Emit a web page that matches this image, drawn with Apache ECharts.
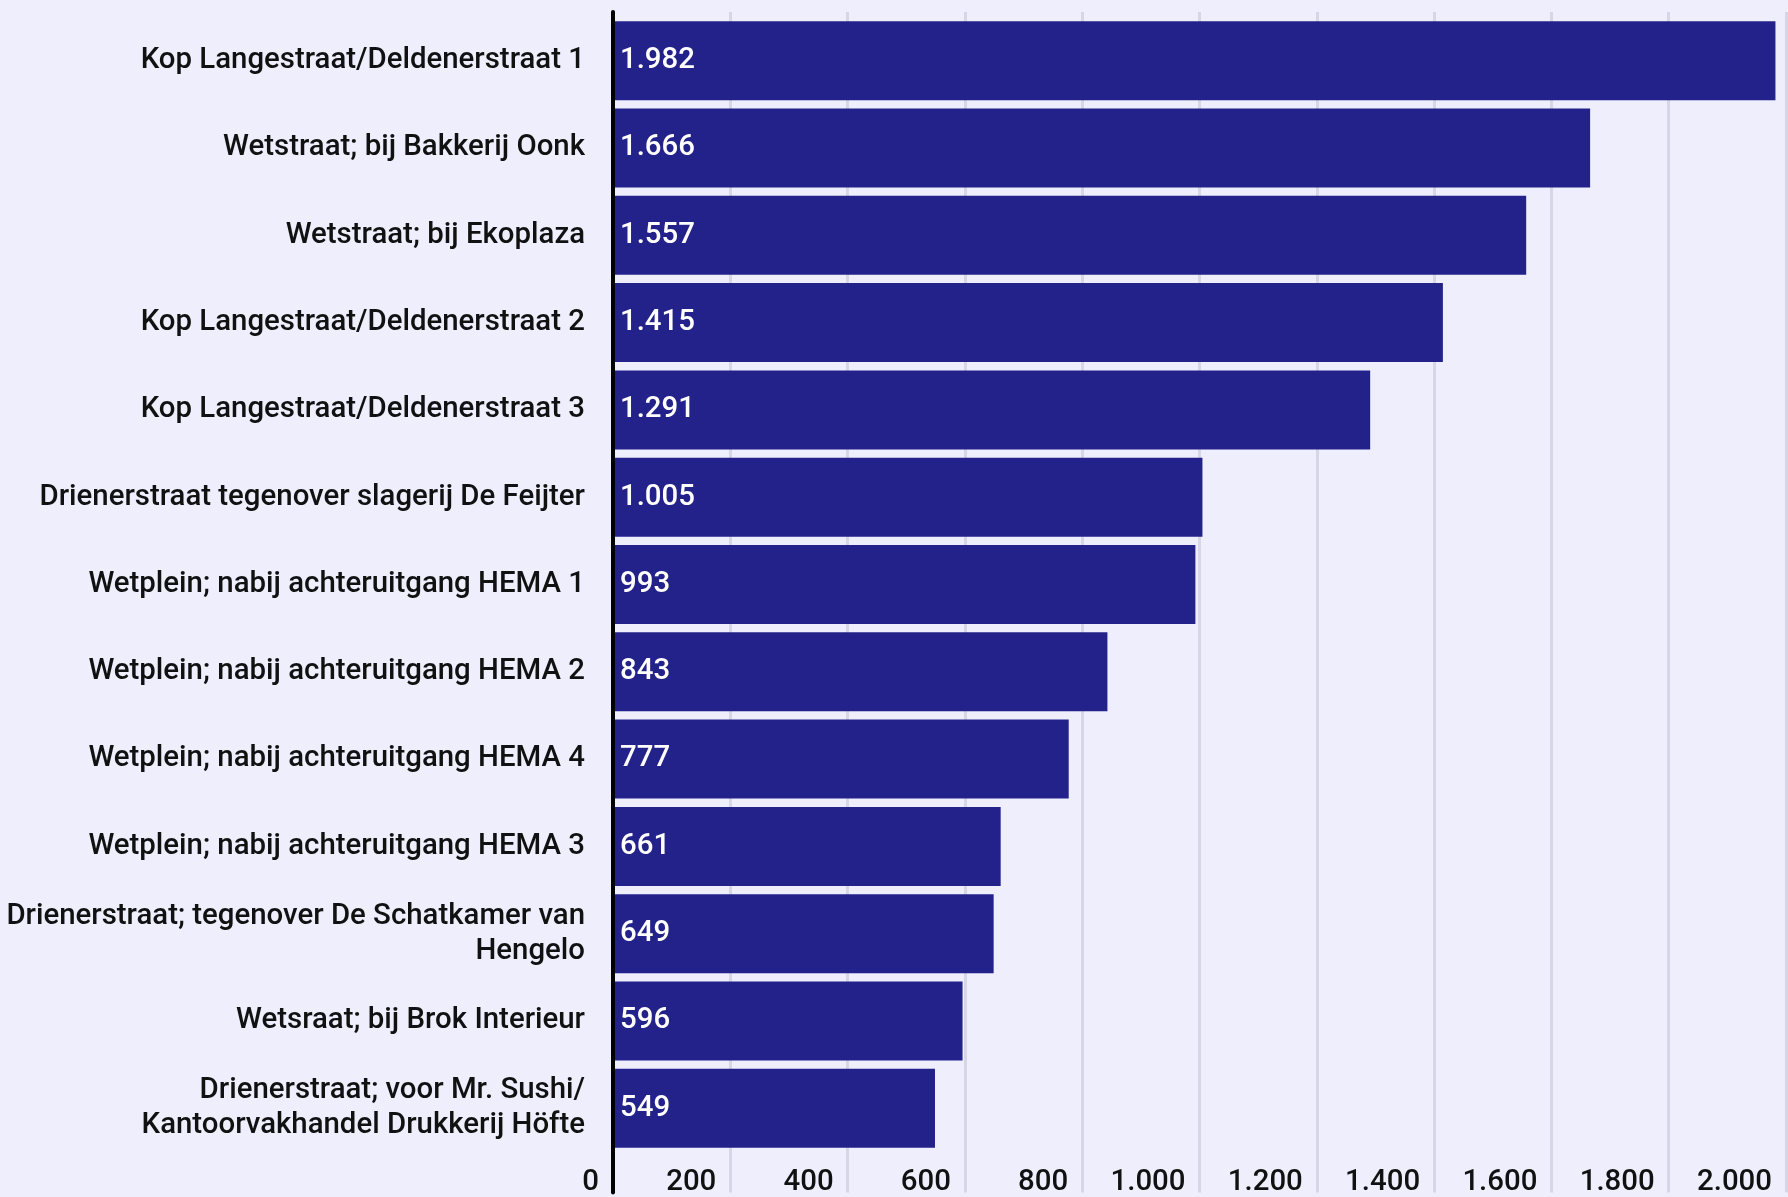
<!DOCTYPE html>
<html>
<head>
<meta charset="utf-8">
<title>Telpunten</title>
<script src="https://cdn.jsdelivr.net/npm/echarts@6/dist/echarts.min.js"></script>
<style>
  html, body { margin: 0; padding: 0; background: #EEEEFD; }
  #chart { width: 1788px; height: 1197px; }
</style>
</head>
<body>
<div id="chart"></div>
<script>
// categorieen (van boven naar beneden)
const categories = [
  'Kop Langestraat/Deldenerstraat 1',
  'Wetstraat; bij Bakkerij Oonk',
  'Wetstraat; bij Ekoplaza',
  'Kop Langestraat/Deldenerstraat 2',
  'Kop Langestraat/Deldenerstraat 3',
  'Drienerstraat tegenover slagerij De Feijter',
  'Wetplein; nabij achteruitgang HEMA 1',
  'Wetplein; nabij achteruitgang HEMA 2',
  'Wetplein; nabij achteruitgang HEMA 4',
  'Wetplein; nabij achteruitgang HEMA 3',
  'Drienerstraat; tegenover De Schatkamer van\nHengelo',
  'Wetsraat; bij Brok Interieur',
  'Drienerstraat; voor Mr. Sushi/\nKantoorvakhandel Drukkerij Höfte'
]
const values = [1982, 1666, 1557, 1415, 1291, 1005, 993, 843, 777, 661, 649, 596, 549]
const xMin = 0
const xMax = 2000
const xStep = 200

// punt als duizendtal-scheiding
function nl(v) {
  return String(v).replace(/\B(?=(\d{3})+(?!\d))/g, '.')
}

const font = 'Roboto'
const fs = 29.4
let myChart = echarts.init(document.getElementById('chart'))

var option = {
  backgroundColor: '#EEEEFD',
  animation: false,
  grid: [
    { left: 613, right: 2, top: 17, bottom: 45 },   // balken
    { left: 613, right: 2, top: 12, bottom: 0 }     // rasterlijnen + as
  ],
  xAxis: [
    {
      gridIndex: 0, type: 'value', min: xMin, max: xMax, interval: xStep,
      show: false
    },
    {
      gridIndex: 1, type: 'value', min: xMin, max: xMax, interval: xStep,
      z: 0,
      axisLine: { show: false },
      axisTick: { show: false },
      splitLine: { show: true, lineStyle: { color: '#D6D6E6', width: 3 } },
      axisLabel: {
        inside: true,
        margin: 10,
        align: 'right',
        verticalAlign: 'middle',
        padding: [0, 14, 0, 0],
        color: '#111',
        fontFamily: font,
        fontWeight: 500,
        fontSize: fs,
        formatter: (v) => nl(v)
      }
    }
  ],
  yAxis: [
    {
      gridIndex: 0, type: 'category', data: categories, inverse: true,
      axisLine: { show: false },
      axisTick: { show: false },
      splitLine: { show: false },
      axisLabel: {
        margin: 28,
        color: '#111',
        fontFamily: font,
        fontWeight: 500,
        fontSize: fs,
        lineHeight: 35,
        align: 'right'
      }
    },
    {
      gridIndex: 1, type: 'value', min: 0, max: 1,
      z: 5,
      axisLine: { show: true, lineStyle: { color: '#000', width: 4 } },
      axisTick: { show: false },
      axisLabel: { show: false },
      splitLine: { show: false }
    }
  ],
  series: [
    {
      type: 'bar',
      xAxisIndex: 0,
      yAxisIndex: 0,
      data: values,
      barCategoryGap: '9.5%',
      z: 2,
      itemStyle: { color: '#23228A' },
      label: {
        show: true,
        position: 'insideLeft',
        distance: 7,
        color: '#fff',
        fontFamily: font,
        fontWeight: 500,
        fontSize: fs,
        formatter: (p) => nl(p.value)
      }
    }
  ]
}

myChart.setOption(option)
window.addEventListener('resize', () => {
  myChart.resize()
})
</script>
</body>
</html>
